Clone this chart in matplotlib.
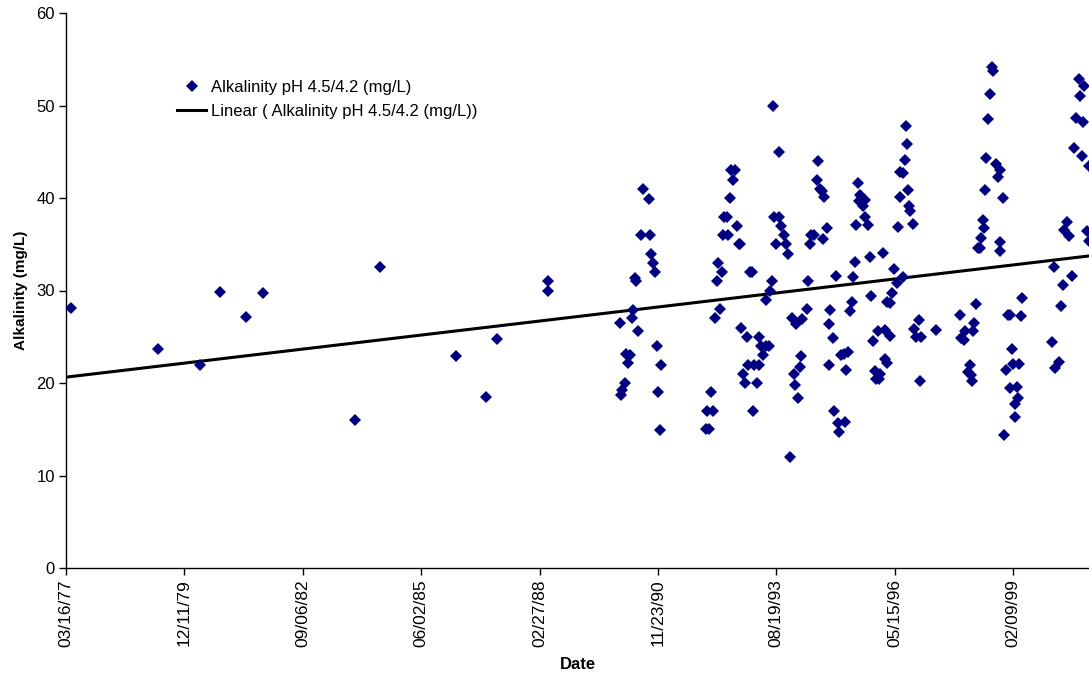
import matplotlib
matplotlib.use("Agg")
import matplotlib.pyplot as plt
import matplotlib.dates as mdates
import numpy as np
from datetime import datetime, timedelta

plt.rcParams['font.family'] = ['Liberation Sans', 'DejaVu Sans']

# sample dates as decimal years, alkalinity in mg/L
sample_year = [
    1977.32, 1979.33, 1980.30, 1980.77, 1981.37, 1981.76, 1983.88, 1984.47,
    1986.22, 1986.92, 1987.16, 1988.35, 1988.35,
    # 1990
    1990.54, 1990.69, 1990.50, 1990.71, 1990.73, 1990.77, 1990.82, 1990.35,
    1990.39, 1990.32, 1990.29, 1990.02, 1990.43, 1990.87, 1990.16, 1990.25,
    1990.21, 1990.97, 1990.12, 1990.07, 1990.04, 1990.90, 1990.93,
    # 1992-1993
    1993.56, 1993.69, 1992.58, 1992.68, 1992.63, 1992.55, 1992.43, 1992.50,
    1992.72, 1992.39, 1992.52, 1992.76, 1992.80, 1993.58, 1993.70, 1993.74,
    1993.80, 1993.62, 1993.86, 1993.90, 1992.29, 1992.37, 1992.25, 1993.02,
    1993.07, 1993.52, 1993.48, 1993.40, 1992.33, 1992.21, 1992.82, 1992.95,
    1993.22, 1993.28, 1993.40, 1993.47, 1993.32, 1992.97, 1993.12, 1993.24,
    1992.86, 1992.90, 1993.18, 1992.11, 1992.02, 1992.16, 1993.10, 1992.00,
    1992.08, 1993.95,
    # 1994-1995
    1994.60, 1994.56, 1994.63, 1994.69, 1994.74, 1995.51, 1995.57, 1995.55,
    1995.68, 1995.64, 1995.67, 1995.48, 1995.75, 1994.43, 1994.50, 1994.80,
    1994.71, 1994.40, 1995.79, 1995.44, 1995.02, 1995.40, 1994.37, 1995.82,
    1994.33, 1995.37, 1995.33, 1994.87, 1993.99, 1994.23, 1994.09, 1994.84,
    1994.94, 1995.99, 1995.86, 1994.21, 1994.17, 1994.03, 1994.07, 1994.14,
    1994.84, 1995.13, 1995.20, 1995.29, 1995.24, 1995.91, 1995.94, 1994.97,
    1995.05, 1995.21, 1995.09,
    # 1996-1997
    1996.63, 1996.65, 1996.61, 1996.49, 1996.57, 1996.68, 1996.48, 1996.70,
    1996.72, 1996.44, 1996.79, 1996.09, 1996.35, 1996.55, 1996.41, 1996.31,
    1996.18, 1996.25, 1996.92, 1997.32, 1996.15, 1996.25, 1996.82, 1996.86,
    1996.98, 1996.15, 1996.20, 1996.03, 1996.01, 1996.95,
    # 1998-1999
    1998.61, 1998.65, 1998.57, 1998.53, 1998.48, 1998.72, 1998.81, 1998.76,
    1998.45, 1998.87, 1998.40, 1998.44, 1998.37, 1998.30, 1998.34, 1998.80,
    1998.80, 1999.32, 1998.99, 1999.03, 1999.28, 1998.25, 1997.88, 1998.20,
    1997.99, 1998.17, 1997.90, 1997.97, 1999.08, 1998.10, 1998.07, 1998.13,
    1998.16, 1999.10, 1999.24, 1998.94, 1999.04, 1999.19, 1999.21, 1999.14,
    1999.15, 1998.90,
    # 2000
    2000.62, 2000.75, 2000.65, 2000.56, 2000.72, 2000.52, 2000.69, 2000.85,
    2000.35, 2000.29, 2000.39, 2000.82, 2000.85, 2000.05, 2000.46, 2000.27,
    2000.21, 2000.01, 2000.16, 2000.08,
]

alkalinity = [
    28.1, 23.7, 22.0, 29.8, 27.1, 29.7, 16.0, 32.5,
    22.9, 18.5, 24.8, 31.0, 29.9,
    # 1990
    41.0, 39.9, 36.0, 36.0, 34.0, 33.0, 32.0, 31.4,
    31.0, 27.9, 27.0, 26.5, 25.6, 24.0, 23.1, 23.0,
    22.2, 22.0, 20.0, 19.2, 18.7, 19.0, 14.9,
    # 1992-1993
    50.0, 45.0, 43.0, 43.0, 42.0, 40.0, 38.0, 38.0,
    37.0, 36.0, 36.0, 35.0, 35.0, 38.0, 38.0, 37.0,
    36.0, 35.0, 35.0, 34.0, 33.0, 32.0, 31.0, 32.0,
    32.0, 31.0, 30.0, 29.0, 28.0, 27.0, 26.0, 25.0,
    25.0, 24.0, 24.0, 24.0, 23.0, 22.0, 22.0, 22.0,
    21.0, 20.0, 20.0, 19.0, 17.0, 17.0, 17.0, 15.0,
    15.0, 12.0,
    # 1994-1995
    44.0, 42.0, 41.0, 40.8, 40.1, 41.6, 40.3, 39.7,
    39.8, 39.1, 38.0, 37.1, 37.1, 36.0, 36.0, 36.8,
    35.6, 35.0, 33.6, 33.1, 31.6, 31.5, 31.0, 29.4,
    28.0, 28.8, 27.8, 27.9, 27.0, 26.9, 26.4, 26.4,
    24.9, 25.6, 24.5, 22.9, 21.7, 21.0, 19.8, 18.4,
    21.9, 23.0, 23.1, 23.4, 21.4, 21.3, 20.4, 17.0,
    15.7, 15.8, 14.7,
    # 1996-1997
    47.8, 45.8, 44.1, 42.8, 42.7, 40.9, 40.1, 39.1,
    38.6, 36.9, 37.2, 34.1, 32.3, 31.5, 30.8, 29.7,
    28.8, 28.7, 26.8, 25.7, 25.7, 25.1, 25.8, 25.0,
    25.0, 22.6, 22.2, 21.0, 20.4, 20.2,
    # 1998-1999
    54.2, 53.7, 51.2, 48.5, 44.3, 43.7, 43.0, 42.3,
    40.9, 40.0, 37.6, 36.8, 35.7, 34.6, 34.6, 35.2,
    34.3, 29.2, 27.4, 27.35, 27.2, 28.5, 27.4, 26.5,
    25.6, 25.6, 24.9, 24.6, 23.7, 22.0, 21.2, 20.9,
    20.2, 22.1, 22.1, 21.4, 19.5, 19.6, 18.35, 17.7,
    16.3, 14.4,
    # 2000
    52.9, 52.1, 51.0, 48.6, 48.2, 45.4, 44.5, 43.5,
    37.4, 36.5, 35.9, 36.4, 35.3, 32.5, 31.6, 30.6,
    28.3, 24.4, 22.3, 21.6,
]

series_name = 'Alkalinity pH 4.5/4.2 (mg/L)'
first_tick = datetime(1977, 3, 16)
tick_step_days = 1000
n_ticks = 9
x_end_year = 2000.86


def year_to_num(yr):
    yr = np.asarray(yr, dtype=float)
    return mdates.date2num(datetime(1977, 1, 1)) + (yr - 1977.0) * 365.25


x = year_to_num(sample_year)
y = np.array(alkalinity)

fig = plt.figure(figsize=(10.89, 6.75), dpi=100)
ax = fig.add_axes([66 / 1089, 1 - 568 / 675, 1 - 66 / 1089, (568 - 13) / 675])

ax.plot(x, y, linestyle='none', marker='D', markersize=6.3,
        color='#000080', markeredgewidth=0, label=series_name, zorder=3)

# least-squares trend across the full date range
slope, intercept = np.polyfit(x, y, 1)
x0 = mdates.date2num(first_tick)
x1 = year_to_num(x_end_year)
xt = np.array([x0, x1])
ax.plot(xt, slope * xt + intercept, color='black', linewidth=2.2,
        label='Linear ( ' + series_name + ')', zorder=2)

ax.set_xlim(x0, x1)
ax.set_ylim(0, 60)
ax.set_yticks(np.arange(0, 61, 10))
ticks = [mdates.date2num(first_tick + timedelta(days=tick_step_days * k))
         for k in range(n_ticks)]
ax.set_xticks(ticks)
ax.xaxis.set_major_formatter(mdates.DateFormatter('%m/%d/%y'))
plt.setp(ax.get_xticklabels(), rotation=90, fontsize=12.5)
plt.setp(ax.get_yticklabels(), fontsize=12)

for side in ['top', 'right']:
    ax.spines[side].set_visible(False)
for side in ['left', 'bottom']:
    ax.spines[side].set_linewidth(1.0)
ax.tick_params(axis='both', direction='out', length=5, width=1, pad=3)

ax.set_xlabel('Date', fontsize=12, fontweight='bold', labelpad=7)
ax.set_ylabel('Alkalinity (mg/L)', fontsize=11, fontweight='bold', labelpad=6)

ax.legend(loc='upper left', bbox_to_anchor=(177 / 1089, 1 - 80 / 675),
          bbox_transform=fig.transFigure, frameon=False, fontsize=12,
          borderpad=0, borderaxespad=0, handlelength=1.75, handletextpad=0.3,
          labelspacing=0.55)

fig.savefig('out.png', dpi=100)
